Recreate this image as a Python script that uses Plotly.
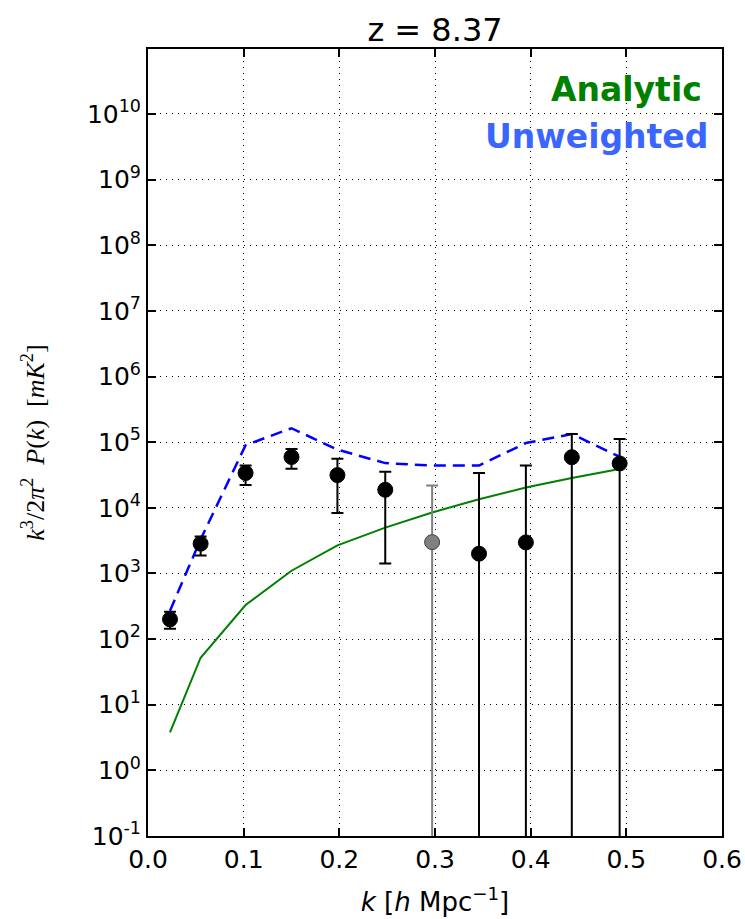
import plotly.graph_objects as go

# ---- data ----
k_vals = [0.023, 0.055, 0.102, 0.150, 0.198, 0.248, 0.297, 0.346, 0.395, 0.443, 0.493]
pk_meas = [200, 2840, 33900, 59400, 31500, 18800, 3000, 2000, 2970, 59000, 47400]
pk_upper = [261, 3670, 44300, 78700, 56000, 35500, 21900, 34000, 44300, 133000, 112000]
# lower bound of error bar; 0 means the bar reaches below the plotted range
pk_lower = [144, 1885, 22200, 39400, 8300, 1420, 0, 0, 0, 0, 0]
gray_index = [6]

analytic = [3.8, 52, 330, 1100, 2680, 5000, 8500, 13500, 20400, 28400, 39000]
unweighted = [270, 3300, 90000, 163000, 77000, 48000, 44000, 44000, 97000, 133000, 60000]

y_tick_exponents = [-1, 0, 1, 2, 3, 4, 5, 6, 7, 8, 9, 10]
x_tick_values = [0.0, 0.1, 0.2, 0.3, 0.4, 0.5, 0.6]

title_text = "z = 8.37"
legend_labels = ["Analytic", "Unweighted"]

fig = go.Figure()

fig.add_trace(go.Scatter(x=k_vals, y=analytic, mode="lines",
                         line=dict(color="#008000", width=2), name=legend_labels[0]))
fig.add_trace(go.Scatter(x=k_vals, y=unweighted, mode="lines",
                         line=dict(color="#0000ff", width=2.5, dash="12px,7px"),
                         name=legend_labels[1]))


def subset(arr, idx):
    return [arr[i] for i in idx]


black_idx = [i for i in range(len(k_vals)) if i not in gray_index]
for idx, fill, edge, ecol in [(black_idx, "#000000", "#000000", "#000000"),
                              (gray_index, "#808080", "#404040", "#808080")]:
    ys = subset(pk_meas, idx)
    ups = [u - y for u, y in zip(subset(pk_upper, idx), ys)]
    downs = [y - l for l, y in zip(subset(pk_lower, idx), ys)]
    fig.add_trace(go.Scatter(
        x=subset(k_vals, idx), y=ys, mode="markers",
        marker=dict(size=15, color=fill, line=dict(color=edge, width=1)),
        error_y=dict(type="data", symmetric=False, array=ups, arrayminus=downs,
                     color=ecol, thickness=2, width=6),
        showlegend=False))

axis_common = dict(
    showline=True, linecolor="black", linewidth=2, mirror="allticks",
    ticks="inside", ticklen=8, tickwidth=1.5, tickcolor="black",
    showgrid=True, gridcolor="black", gridwidth=1, griddash="1px,5px",
    zeroline=False, automargin=False,
    tickfont=dict(family="DejaVu Sans", size=25, color="black"),
)

fig.update_xaxes(
    range=[0, 0.6], tickvals=x_tick_values, tickformat=".1f",
    title=dict(text="<i>k</i> [<i>h</i> Mpc<sup>−1</sup>]",
               font=dict(family="DejaVu Sans", size=26, color="black"), standoff=20),
    **axis_common)

fig.update_yaxes(
    type="log", range=[-1, 10.99],
    tickvals=[10.0 ** e for e in y_tick_exponents],
    ticktext=["10<sup>%s</sup>" % e for e in y_tick_exponents],
    **axis_common)

fig.add_annotation(
    text="<i>k</i><sup>3</sup>/2<i>π</i><sup>2</sup>  <i>P</i>(<i>k</i>)  [<i>mK</i><sup>2</sup>]",
    xref="paper", yref="paper", x=-0.2, y=0.5, xanchor="center", yanchor="middle",
    textangle=-90, showarrow=False,
    font=dict(family="Liberation Serif", size=26, color="black"))

fig.add_annotation(text="<b>%s</b>" % legend_labels[0], xref="paper", yref="paper",
                   x=0.9686, y=0.948, xanchor="right", yanchor="middle", showarrow=False,
                   font=dict(family="DejaVu Sans", size=33, color="#008000"))
fig.add_annotation(text="<b>%s</b>" % legend_labels[1], xref="paper", yref="paper",
                   x=0.979, y=0.889, xanchor="right", yanchor="middle", showarrow=False,
                   font=dict(family="DejaVu Sans", size=33, color="#3a66ff"))

fig.update_layout(
    width=745, height=919,
    margin=dict(l=148, r=23, t=49, b=83, autoexpand=False),
    paper_bgcolor="white", plot_bgcolor="white",
    showlegend=False,
    title=dict(text=title_text, x=0.5, xref="paper", y=1 - 30 / 919, yanchor="middle",
               font=dict(family="DejaVu Sans", size=32, color="black")),
)

fig.write_html("out.html")
